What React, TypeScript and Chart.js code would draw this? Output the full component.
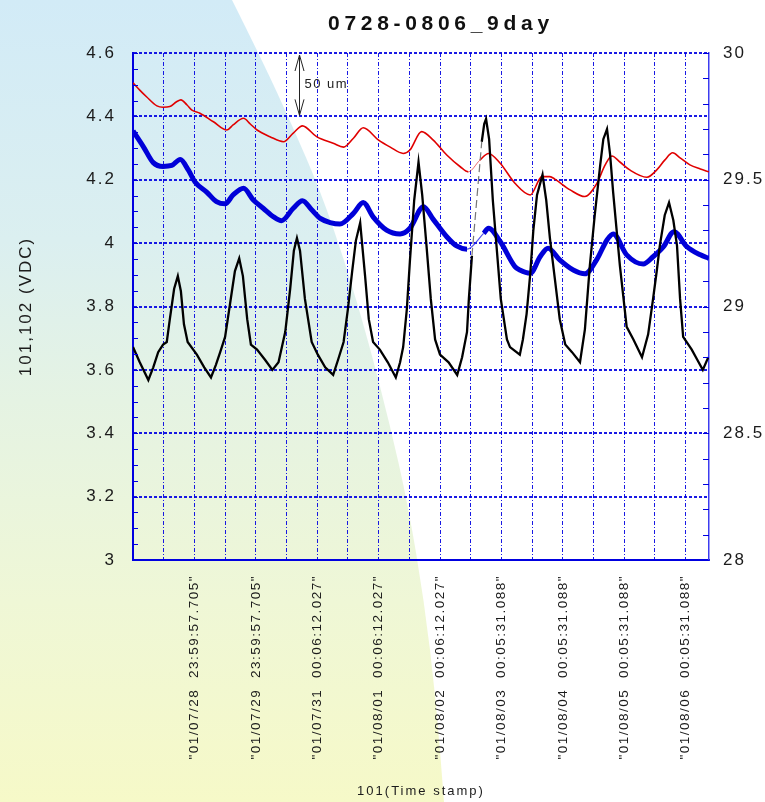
import React, { useEffect, useRef } from 'react';
import { Chart, registerables } from 'chart.js';

Chart.register(...registerables);

const FONT = '"Liberation Sans", Arial, Helvetica, sans-serif';
const TEXT_COLOR = '#1b1b1b';
const GRID_BLUE = 'rgba(0, 0, 225, 0.9)';
const AXIS_BLUE = '#0000e0';

const TITLE = '0728-0806_9day';
const Y_TITLE = '101,102 (VDC)';
const X_TITLE = '101(Time stamp)';

// x axis: days since start, grid every half day, labels every day
const X_MAX_DAYS = 9.381;
const X_GRID_DAYS = Array.from({ length: 19 }, (_, k) => k * 0.5);
const X_TICK_LABELS = [
  '"01/07/28  23:59:57.705"',
  '"01/07/29  23:59:57.705"',
  '"01/07/31  00:06:12.027"',
  '"01/08/01  00:06:12.027"',
  '"01/08/02  00:06:12.027"',
  '"01/08/03  00:05:31.088"',
  '"01/08/04  00:05:31.088"',
  '"01/08/05  00:05:31.088"',
  '"01/08/06  00:05:31.088"',
];

const LEFT_MIN = 3;
const LEFT_MAX = 4.6;
const RIGHT_MIN = 28;
const RIGHT_MAX = 30;

// data gap (thin connecting segments)
const GAP_AT_DAY = 5.6;

// "50 um" scale marker
const MARKER_DAY = 2.7;
const MARKER_FROM = 4.6;
const MARKER_TO = 4.4;
const MARKER_TEXT = '50 um';

// red trace (left axis)
const redDays = [0.0, 0.11, 0.22, 0.39, 0.49, 0.6, 0.71, 0.78, 0.88, 0.96, 1.09, 1.31, 1.53, 1.63, 1.8, 1.91, 2.02, 2.23, 2.45, 2.61, 2.76, 2.99, 3.26, 3.43, 3.59, 3.75, 4.0, 4.19, 4.4, 4.51, 4.7, 4.89, 5.11, 5.33, 5.46, 5.65, 5.79, 5.98, 6.22, 6.47, 6.66, 6.79, 6.87, 7.12, 7.36, 7.55, 7.69, 7.8, 7.93, 8.09, 8.37, 8.53, 8.66, 8.79, 8.91, 9.07, 9.24, 9.38];
const redVolts = [4.506, 4.483, 4.462, 4.433, 4.429, 4.431, 4.446, 4.452, 4.436, 4.42, 4.41, 4.383, 4.357, 4.373, 4.394, 4.376, 4.357, 4.336, 4.32, 4.347, 4.37, 4.336, 4.315, 4.303, 4.331, 4.364, 4.325, 4.303, 4.283, 4.294, 4.352, 4.325, 4.278, 4.241, 4.225, 4.262, 4.283, 4.252, 4.189, 4.152, 4.21, 4.21, 4.202, 4.168, 4.147, 4.187, 4.247, 4.275, 4.256, 4.231, 4.208, 4.231, 4.262, 4.285, 4.269, 4.247, 4.234, 4.225];

// blue trace (left axis)
const blueDays = [0.0, 0.17, 0.33, 0.49, 0.63, 0.77, 0.9, 1.01, 1.2, 1.36, 1.5, 1.63, 1.8, 1.96, 2.12, 2.29, 2.42, 2.61, 2.76, 2.91, 3.05, 3.21, 3.37, 3.59, 3.75, 3.91, 4.13, 4.35, 4.51, 4.73, 4.89, 5.11, 5.27, 5.44, 5.71, 5.79, 5.98, 6.22, 6.3, 6.47, 6.63, 6.76, 6.95, 7.17, 7.36, 7.55, 7.72, 7.82, 8.04, 8.31, 8.47, 8.64, 8.81, 9.02, 9.24, 9.38];
const blueVolts = [4.354, 4.304, 4.254, 4.242, 4.245, 4.264, 4.231, 4.193, 4.161, 4.131, 4.124, 4.152, 4.173, 4.136, 4.11, 4.083, 4.071, 4.11, 4.134, 4.105, 4.078, 4.065, 4.06, 4.094, 4.128, 4.083, 4.041, 4.029, 4.047, 4.115, 4.075, 4.02, 3.991, 3.981, 4.031, 4.047, 4.005, 3.926, 3.915, 3.905, 3.957, 3.984, 3.947, 3.915, 3.903, 3.947, 4.01, 4.029, 3.963, 3.934, 3.957, 3.989, 4.036, 3.989, 3.963, 3.952];

// black trace (right axis)
const blackDays = [0.0, 0.11, 0.25, 0.33, 0.41, 0.49, 0.55, 0.6, 0.67, 0.73, 0.78, 0.83, 0.89, 1.04, 1.16, 1.27, 1.35, 1.42, 1.5, 1.58, 1.66, 1.73, 1.79, 1.86, 1.92, 2.02, 2.15, 2.27, 2.37, 2.48, 2.56, 2.62, 2.67, 2.72, 2.8, 2.91, 3.01, 3.13, 3.26, 3.34, 3.43, 3.5, 3.57, 3.63, 3.7, 3.78, 3.84, 3.91, 4.02, 4.15, 4.28, 4.35, 4.4, 4.46, 4.51, 4.58, 4.65, 4.71, 4.78, 4.85, 4.92, 5.0, 5.14, 5.28, 5.36, 5.44, 5.47, 5.52, 5.68, 5.72, 5.75, 5.8, 5.86, 5.92, 5.99, 6.09, 6.14, 6.3, 6.35, 6.41, 6.47, 6.52, 6.58, 6.67, 6.73, 6.79, 6.87, 6.95, 7.04, 7.15, 7.28, 7.36, 7.44, 7.52, 7.61, 7.66, 7.72, 7.77, 7.82, 7.93, 8.04, 8.15, 8.29, 8.39, 8.47, 8.53, 8.58, 8.66, 8.73, 8.8, 8.86, 8.91, 8.96, 9.1, 9.19, 9.28, 9.37];
const blackTemps = [28.84, 28.78, 28.71, 28.76, 28.82, 28.85, 28.86, 28.95, 29.07, 29.12, 29.06, 28.93, 28.86, 28.81, 28.76, 28.72, 28.77, 28.82, 28.88, 29.01, 29.14, 29.19, 29.12, 28.95, 28.85, 28.83, 28.79, 28.75, 28.78, 28.9, 29.07, 29.22, 29.27, 29.22, 29.03, 28.86, 28.81, 28.76, 28.73, 28.79, 28.86, 28.99, 29.14, 29.26, 29.33, 29.12, 28.95, 28.86, 28.83, 28.78, 28.72, 28.78, 28.84, 28.99, 29.18, 29.42, 29.57, 29.44, 29.24, 29.03, 28.87, 28.81, 28.78, 28.73, 28.8, 28.9, 29.03, 29.2, 29.65, 29.72, 29.74, 29.66, 29.42, 29.24, 29.03, 28.87, 28.84, 28.81, 28.87, 28.97, 29.13, 29.3, 29.44, 29.52, 29.42, 29.27, 29.11, 28.95, 28.85, 28.82, 28.78, 28.91, 29.16, 29.36, 29.56, 29.66, 29.7, 29.6, 29.45, 29.16, 28.92, 28.87, 28.8, 28.89, 29.03, 29.14, 29.24, 29.36, 29.41, 29.34, 29.24, 29.03, 28.88, 28.83, 28.79, 28.75, 28.8];

// background decoration outline (left side gradient panel)
const PANEL_EDGE: [number, number][] = [
  [232, 0], [262, 60], [292, 125], [320, 190], [345, 262], [368, 340],
  [390, 425], [408, 505], [424, 600], [436, 700], [444, 802],
];

const pairs = (xs: number[], ys: number[]) => xs.map((x, i) => ({ x, y: ys[i] }));
const crossesGap = (c: any) => c.p0.parsed.x < GAP_AT_DAY && c.p1.parsed.x > GAP_AT_DAY;
const gapSegment = (width: number, color: string, dash?: number[]) => ({
  borderWidth: (c: any) => (crossesGap(c) ? width : undefined),
  borderColor: (c: any) => (crossesGap(c) ? color : undefined),
  borderDash: (c: any) => (crossesGap(c) ? dash || [] : undefined),
});

const decorPlugin = {
  id: 'decor',
  beforeDraw(chart: any) {
    const { ctx, width, height } = chart;
    ctx.save();
    ctx.fillStyle = '#ffffff';
    ctx.fillRect(0, 0, width, height);
    const g = ctx.createLinearGradient(0, 0, 0, height);
    g.addColorStop(0, '#d2ebf7');
    g.addColorStop(0.3, '#dbeff0');
    g.addColorStop(0.5, '#e5f3e3');
    g.addColorStop(0.75, '#eff7d6');
    g.addColorStop(1, '#f6f9c8');
    ctx.fillStyle = g;
    ctx.beginPath();
    ctx.moveTo(0, 0);
    ctx.lineTo(PANEL_EDGE[0][0], PANEL_EDGE[0][1]);
    for (let i = 1; i < PANEL_EDGE.length - 1; i++) {
      const [cx, cy] = PANEL_EDGE[i];
      const [nx, ny] = PANEL_EDGE[i + 1];
      ctx.quadraticCurveTo(cx, cy, (cx + nx) / 2, (cy + ny) / 2);
    }
    const last = PANEL_EDGE[PANEL_EDGE.length - 1];
    ctx.lineTo(last[0], last[1]);
    ctx.lineTo(0, height);
    ctx.closePath();
    ctx.fill();
    ctx.restore();
    ctx.letterSpacing = '2px';
  },
  afterDatasetsDraw(chart: any) {
    const { ctx, chartArea, scales } = chart;
    const y = scales.y;
    const y2 = scales.y2;
    const x = scales.x;
    ctx.save();
    ctx.strokeStyle = AXIS_BLUE;
    ctx.lineWidth = 1;
    ctx.beginPath();
    for (let k = 0; k <= 32; k++) {
      const py = Math.round(y.getPixelForValue(LEFT_MIN + k * 0.05)) + 0.5;
      ctx.moveTo(chartArea.left, py);
      ctx.lineTo(chartArea.left + 5, py);
    }
    for (let k = 0; k <= 20; k++) {
      const py = Math.round(y2.getPixelForValue(RIGHT_MIN + k * 0.1)) + 0.5;
      ctx.moveTo(chartArea.right - 6, py);
      ctx.lineTo(chartArea.right, py);
    }
    ctx.stroke();

    // 50 um marker
    const mx = Math.round(x.getPixelForValue(MARKER_DAY)) + 0.5;
    const top = y.getPixelForValue(MARKER_FROM) + 2;
    const bot = y.getPixelForValue(MARKER_TO) - 1;
    ctx.strokeStyle = '#222';
    ctx.lineWidth = 1;
    ctx.beginPath();
    ctx.moveTo(mx, top);
    ctx.lineTo(mx, bot);
    ctx.moveTo(mx - 4.5, top + 16);
    ctx.lineTo(mx, top);
    ctx.lineTo(mx + 4.5, top + 16);
    ctx.moveTo(mx - 4.5, bot - 16);
    ctx.lineTo(mx, bot);
    ctx.lineTo(mx + 4.5, bot - 16);
    ctx.stroke();
    ctx.letterSpacing = '1.5px';
    ctx.font = `13px ${FONT}`;
    ctx.fillStyle = '#222';
    ctx.textAlign = 'left';
    ctx.textBaseline = 'middle';
    ctx.fillText(MARKER_TEXT, mx + 5, (top + bot) / 2 - 1);
    ctx.restore();
    ctx.letterSpacing = '1.5px';
  },
  afterDraw(chart: any) {
    const { ctx } = chart;
    ctx.save();
    ctx.letterSpacing = '4.7px';
    ctx.font = `bold 21px ${FONT}`;
    ctx.fillStyle = '#111';
    ctx.textAlign = 'left';
    ctx.textBaseline = 'alphabetic';
    ctx.fillText(TITLE, 328, 30);
    ctx.restore();
    ctx.letterSpacing = '0px';
  },
};

export default function App() {
  const ref = useRef<HTMLCanvasElement>(null);
  useEffect(() => {
    const canvas = ref.current;
    if (!canvas) return;
    Chart.defaults.font.family = FONT;
    const chart = new Chart(canvas, {
      type: 'line',
      data: {
        datasets: [
          {
            label: '102',
            data: pairs(redDays, redVolts),
            yAxisID: 'y',
            borderColor: '#e00000',
            borderWidth: 1.6,
            pointRadius: 0,
            cubicInterpolationMode: 'monotone',
            order: 3,
            segment: gapSegment(1, 'rgba(225,40,40,0.7)'),
          },
          {
            label: '101',
            data: pairs(blueDays, blueVolts),
            yAxisID: 'y',
            borderColor: '#0000d8',
            borderWidth: 5,
            pointRadius: 0,
            cubicInterpolationMode: 'monotone',
            order: 2,
            segment: gapSegment(1.2, 'rgba(40,40,230,0.8)'),
          },
          {
            label: 'temp',
            data: pairs(blackDays, blackTemps),
            yAxisID: 'y2',
            borderColor: '#000000',
            borderWidth: 2.3,
            pointRadius: 0,
            tension: 0,
            order: 1,
            segment: gapSegment(1.2, '#777777', [8, 4]),
          },
        ],
      },
      options: {
        responsive: false,
        devicePixelRatio: 1,
        animation: false,
        events: [],
        layout: { padding: { top: 53, left: 0, right: 0, bottom: 0 } },
        plugins: {
          legend: { display: false },
          title: { display: false },
          tooltip: { enabled: false },
        },
        scales: {
          x: {
            type: 'linear',
            position: 'bottom',
            min: 0,
            max: X_MAX_DAYS,
            afterBuildTicks: (s: any) => {
              s.ticks = X_GRID_DAYS.map((v) => ({ value: v }));
            },
            afterFit: (s: any) => {
              s.height = 242;
            },
            ticks: {
              autoSkip: false,
              minRotation: 90,
              maxRotation: 90,
              padding: 15,
              z: 1,
              color: TEXT_COLOR,
              font: { size: 13.5, family: FONT },
              callback: (v: any) => {
                const n = Number(v);
                return Number.isInteger(n) && n >= 1 && n <= X_TICK_LABELS.length ? X_TICK_LABELS[n - 1] : '';
              },
            },
            grid: { color: GRID_BLUE, lineWidth: 1, drawTicks: false },
            border: { display: true, color: AXIS_BLUE, width: 2, dash: [4, 2, 1, 2] },
            title: {
              display: true,
              text: X_TITLE,
              color: TEXT_COLOR,
              font: { size: 13, family: FONT },
              padding: { top: 0, bottom: 3 },
            },
          },
          y: {
            type: 'linear',
            position: 'left',
            min: LEFT_MIN,
            max: LEFT_MAX,
            afterFit: (s: any) => {
              s.width = 133;
            },
            ticks: {
              stepSize: 0.2,
              padding: 17,
              color: TEXT_COLOR,
              font: { size: 17, family: FONT },
              callback: (v: any) => String(Math.round(Number(v) * 10) / 10),
            },
            grid: { color: GRID_BLUE, lineWidth: 2, drawTicks: false },
            border: { display: true, color: AXIS_BLUE, width: 2, dash: [3, 2] },
            title: {
              display: true,
              text: Y_TITLE,
              color: TEXT_COLOR,
              font: { size: 17, family: FONT },
              padding: { top: 16, bottom: 0 },
            },
          },
          y2: {
            type: 'linear',
            position: 'right',
            min: RIGHT_MIN,
            max: RIGHT_MAX,
            afterFit: (s: any) => {
              s.width = 56;
            },
            ticks: {
              stepSize: 0.5,
              padding: 14,
              color: TEXT_COLOR,
              font: { size: 17, family: FONT },
              callback: (v: any) => String(Math.round(Number(v) * 10) / 10),
            },
            grid: { drawOnChartArea: false, drawTicks: false },
            border: { display: true, color: '#3c3cf0', width: 1.5 },
          },
        },
      },
      plugins: [decorPlugin],
    } as any);
    return () => chart.destroy();
  }, []);

  return (
    <canvas
      ref={ref}
      width={765}
      height={802}
      style={{ position: 'absolute', left: 0, top: 0, display: 'block', width: '765px', height: '802px' }}
    />
  );
}
